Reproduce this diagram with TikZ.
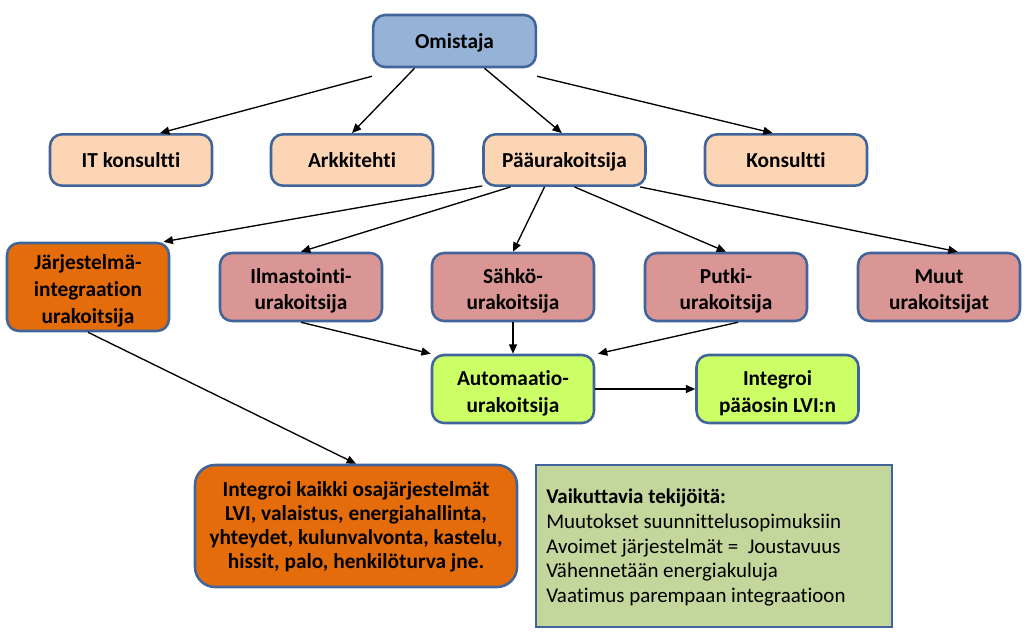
\documentclass[tikz,border=0pt]{standalone}
\usepackage{fontspec}
\setmainfont{Carlito}[Ligatures=NoCommon]
\usetikzlibrary{arrows.meta}
\definecolor{bordc}{HTML}{41659A}
\definecolor{bluef}{HTML}{95B3D7}
\definecolor{peachf}{HTML}{FCD5B5}
\definecolor{orangef}{HTML}{E46C0A}
\definecolor{rosef}{HTML}{D99694}
\definecolor{limef}{HTML}{CCFF66}
\definecolor{olivef}{HTML}{C3D69B}
\newcommand\bxt[2][6pt]{\raisebox{0pt}[\dimexpr\height+#1\relax][\depth]{\begin{tabular}{@{}c@{}}#2\end{tabular}}}
\begin{document}
\begin{tikzpicture}[x=0.75pt,y=-0.75pt,
  box/.style={draw=bordc,line width=1.9pt,rounded corners=9pt,align=center,
    font=\bfseries\fontsize{16pt}{20pt}\selectfont,inner sep=0pt},
  sbox/.style={box,minimum width=121.5pt,minimum height=38.5pt},
  tbox/.style={box,minimum width=121.5pt,minimum height=51pt},
  arr/.style={-{Triangle[length=7pt,width=6pt]},line width=1pt,black}]
\useasboundingbox (0,0) rectangle (1028,636);
\node[box,fill=bluef,minimum width=122pt,minimum height=39pt] (om) at (454.5,41) {\bxt[3.5pt]{Omistaja}};
\node[sbox,fill=peachf] (it) at (131,160) {\bxt[3.5pt]{IT konsultti}};
\node[sbox,fill=peachf] (ark) at (352,160) {\bxt[3.5pt]{Arkkitehti}};
\node[sbox,fill=peachf] (paa) at (564.5,160) {\bxt[3.5pt]{Pääurakoitsija}};
\node[sbox,fill=peachf] (kon) at (786,160) {\bxt[3.5pt]{Konsultti}};
\node[box,fill=orangef,minimum width=121.5pt,minimum height=64.5pt] (jar) at (88,287) {\bxt{Järjestelmä-\\integraation\\urakoitsija}};
\node[tbox,fill=rosef] (ilm) at (301,287) {\bxt{Ilmastointi-\\urakoitsija}};
\node[tbox,fill=rosef] (sah) at (513,287) {\bxt{Sähkö-\\urakoitsija}};
\node[tbox,fill=rosef] (put) at (726,287) {\bxt{Putki-\\urakoitsija}};
\node[tbox,fill=rosef] (muu) at (939,287) {\bxt{Muut\\urakoitsijat}};
\node[tbox,fill=limef] (aut) at (513,389) {\bxt[7pt]{Automaatio-\\urakoitsija}};
\node[tbox,fill=limef] (lvi) at (777.5,389) {\bxt[7pt]{Integroi\\pääosin LVI:n}};
\node[box,fill=orangef,rounded corners=15pt,minimum width=241.5pt,minimum height=91.5pt,
  font=\bfseries\fontsize{16pt}{18pt}\selectfont] (kaik) at (356,526)
  {\bxt[3pt]{Integroi kaikki osajärjestelmät\\LVI, valaistus, energiahallinta,\\yhteydet, kulunvalvonta, kastelu,\\hissit, palo, henkilöturva jne.}};
\node[draw=bordc,line width=1.9pt,fill=olivef,minimum width=267pt,minimum height=121.5pt,inner sep=0pt] (vai) at (714,546) {};
\node[anchor=north west,align=left,inner sep=0pt,font=\fontsize{15.7pt}{18.4pt}\selectfont] (vait) at (546,489)
  {\textbf{Vaikuttavia tekijöitä:}\\Muutokset suunnittelusopimuksiin\\Avoimet järjestelmät =\ \ Joustavuus\\Vähennetään energiakuluja\\Vaatimus parempaan integraatioon};
\draw[arr] ([yshift=-6pt]om.south west) -- ([xshift=21.75pt]it.north);
\draw[arr] ([xshift=-30pt]om.south) -- (ark.north);
\draw[arr] ([xshift=22.5pt]om.south) -- ([xshift=-2pt]paa.north);
\draw[arr] ([yshift=-6pt]om.south east) -- ([xshift=-10pt]kon.north);
\draw[arr] ([yshift=0.75pt]paa.south west) -- ([xshift=-5pt]jar.north east);
\draw[arr] ([xshift=-40.5pt]paa.south) -- (ilm.north);
\draw[arr] ([xshift=-15pt]paa.south) -- (sah.north);
\draw[arr] ([xshift=7.5pt]paa.south) -- (put.north);
\draw[arr] ([xshift=-5pt]paa.south east) -- ([xshift=14pt]muu.north);
\draw[arr] (ilm.south) -- (aut.north west);
\draw[arr] (sah.south) -- (aut.north);
\draw[arr] ([xshift=9pt]put.south) -- ([xshift=2pt]aut.north east);
\draw[arr] (aut.east) -- (lvi.west);
\draw[arr] (jar.south) -- (kaik.north);
\end{tikzpicture}
\end{document}
